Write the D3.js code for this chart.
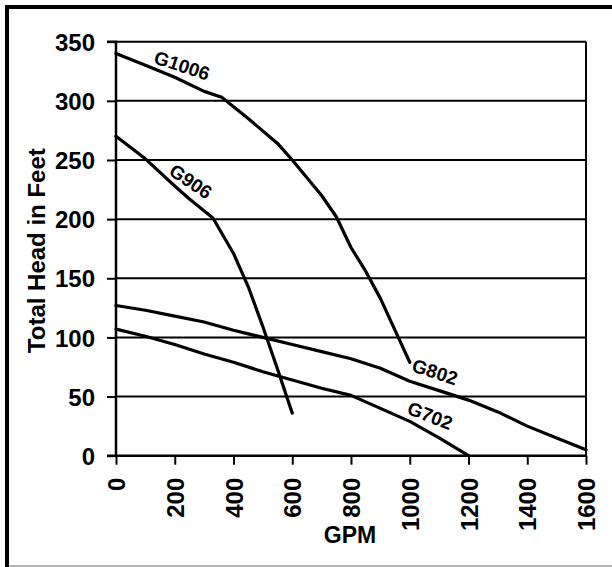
<!DOCTYPE html>
<html>
<head>
<meta charset="utf-8">
<script src="https://cdn.jsdelivr.net/npm/d3@7"></script>
<style>
  html, body { margin: 0; padding: 0; background: #fff; overflow: hidden; }
  svg { display: block; font-family: "Liberation Sans", Arial, sans-serif; font-weight: bold; }
</style>
</head>
<body>
<div id="chart"></div>
<script>
// pump curves
const g1006Gpm = [0, 100, 200, 300, 360, 450, 550, 600, 700, 750, 800, 850, 900, 950, 1000];
const g1006Head = [340, 330, 320, 308, 303, 285, 264, 250, 220, 202, 176, 156, 133, 106, 79];

const g906Gpm = [0, 100, 200, 250, 330, 400, 450, 500, 550, 600];
const g906Head = [270, 251, 228, 217, 201, 171, 143, 109, 73, 36];

const g802Gpm = [0, 100, 200, 300, 400, 500, 600, 700, 800, 900, 1000, 1100, 1200, 1300, 1400, 1500, 1600];
const g802Head = [127, 123, 118, 113, 106, 100, 94, 88, 82, 74, 63, 55, 47, 37, 25, 15, 5];

const g702Gpm = [0, 100, 200, 300, 400, 500, 600, 700, 800, 900, 1000, 1100, 1200];
const g702Head = [107, 101, 94, 86, 79, 71, 64, 57, 51, 40, 29, 15, 0];

const seriesNames = ["G1006", "G906", "G802", "G702"];

const xTicks = [0, 200, 400, 600, 800, 1000, 1200, 1400, 1600];
const yTicks = [0, 50, 100, 150, 200, 250, 300, 350];

// where each curve name sits (in data units) and its tilt
const labelAt = [
  { gpm: 225, head: 330, angle: 18 },
  { gpm: 255, head: 232, angle: 34 },
  { gpm: 1086, head: 71, angle: 18 },
  { gpm: 1069, head: 34, angle: 21 }
];

const width = 612;
const height = 567;
const margin = { top: 41.7, right: 26, bottom: 111.3, left: 116 };

const series = [
  { name: seriesNames[0], pts: g1006Gpm.map((g, i) => [g, g1006Head[i]]) },
  { name: seriesNames[1], pts: g906Gpm.map((g, i) => [g, g906Head[i]]) },
  { name: seriesNames[2], pts: g802Gpm.map((g, i) => [g, g802Head[i]]) },
  { name: seriesNames[3], pts: g702Gpm.map((g, i) => [g, g702Head[i]]) }
];

const svg = d3.select("#chart").append("svg")
  .attr("width", width)
  .attr("height", height);

// outer frame: heavy top/left edge, faint grey bottom
svg.append("path")
  .attr("d", `M7,${height}V7H${width}`)
  .attr("fill", "none")
  .attr("stroke", "#000")
  .attr("stroke-width", 4);
svg.append("line")
  .attr("x1", 9).attr("x2", width)
  .attr("y1", 566).attr("y2", 566)
  .attr("stroke", "#999").attr("stroke-width", 1.5);

const xScale = d3.scaleLinear()
  .domain([0, 1600])
  .range([margin.left, width - margin.right]);

const yScale = d3.scaleLinear()
  .domain([0, 350])
  .range([height - margin.bottom, margin.top]);

// horizontal gridlines
svg.append("g")
  .selectAll("line")
  .data(yTicks.filter(d => d > 0))
  .join("line")
  .attr("x1", xScale(0))
  .attr("x2", xScale(1600))
  .attr("y1", d => yScale(d))
  .attr("y2", d => yScale(d))
  .attr("stroke", "#000")
  .attr("stroke-width", 2);

// right edge of plot area
svg.append("line")
  .attr("x1", xScale(1600)).attr("x2", xScale(1600))
  .attr("y1", yScale(350)).attr("y2", yScale(0))
  .attr("stroke", "#000").attr("stroke-width", 2);

// axes
const yAxis = svg.append("g")
  .attr("transform", `translate(${xScale(0)}, 0)`)
  .call(d3.axisLeft(yScale).tickValues(yTicks).tickFormat(d3.format("d")).tickSize(9).tickPadding(12));

const xAxis = svg.append("g")
  .attr("transform", `translate(0, ${yScale(0)})`)
  .call(d3.axisBottom(xScale).tickValues(xTicks).tickFormat(d3.format("d")).tickSize(9));

[yAxis, xAxis].forEach(ax => {
  ax.select(".domain").attr("stroke", "#000").attr("stroke-width", 2.5);
  ax.selectAll(".tick line").attr("stroke", "#000").attr("stroke-width", 2);
  ax.selectAll(".tick text")
    .attr("fill", "#000")
    .style("font-size", "24px")
    .style("font-weight", "bold")
    .style("font-family", "'Liberation Sans', Arial, sans-serif");
});

yAxis.select(".domain").attr("d", `M-9,${yScale(0)}H0V${yScale(350)}H-9`);
xAxis.select(".domain").attr("d", `M${xScale(0)},0H${xScale(1600)}`);

yAxis.selectAll(".tick text").attr("dy", "0.36em");

xAxis.selectAll(".tick text")
  .attr("text-anchor", "end")
  .attr("transform", "rotate(-90)")
  .attr("x", -22)
  .attr("y", 0)
  .attr("dy", "0.36em");

// curves
const line = d3.line()
  .x(d => xScale(d[0]))
  .y(d => yScale(d[1]));

svg.append("g")
  .selectAll("path")
  .data(series)
  .join("path")
  .attr("d", d => line(d.pts))
  .attr("fill", "none")
  .attr("stroke", "#000")
  .attr("stroke-width", 3.2)
  .attr("stroke-linejoin", "round")
  .attr("stroke-linecap", "round");

// curve names
svg.append("g")
  .selectAll("text")
  .data(series)
  .join("text")
  .attr("transform", (d, i) =>
    `translate(${xScale(labelAt[i].gpm)}, ${yScale(labelAt[i].head)}) rotate(${labelAt[i].angle})`)
  .attr("text-anchor", "middle")
  .attr("dy", "0.36em")
  .style("font-size", "19px")
  .text(d => d.name);

// axis titles
svg.append("text")
  .attr("transform", `translate(36, ${(yScale(0) + yScale(350)) / 2 + 2}) rotate(-90)`)
  .attr("text-anchor", "middle")
  .attr("dy", "0.36em")
  .style("font-size", "24px")
  .text("Total Head in Feet");

svg.append("text")
  .attr("x", 350)
  .attr("y", 543)
  .attr("text-anchor", "middle")
  .style("font-size", "23px")
  .text("GPM");
</script>
</body>
</html>
